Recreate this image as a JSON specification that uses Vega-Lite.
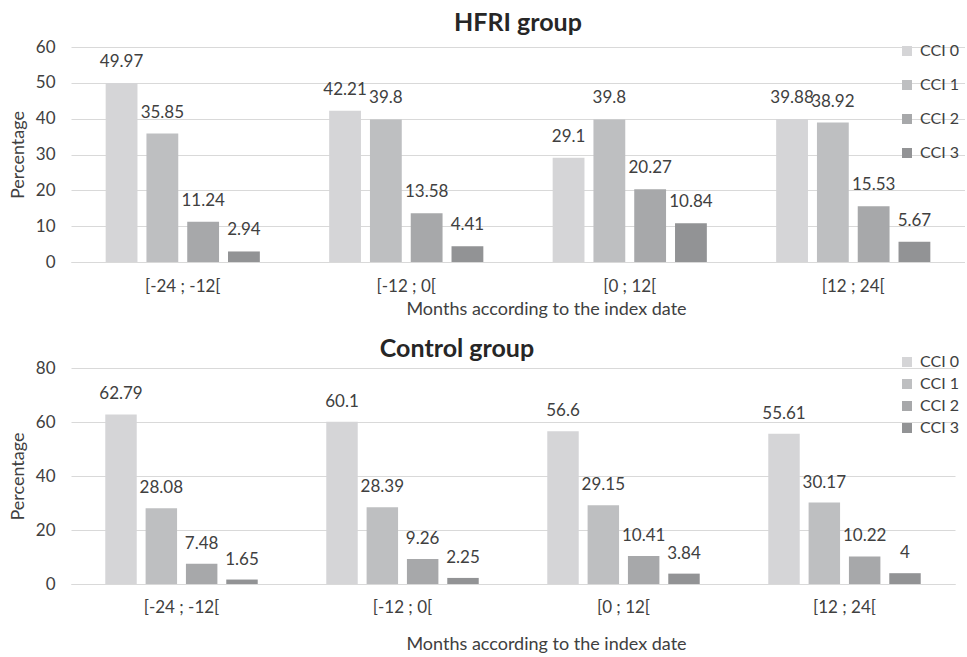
{
  "$schema": "https://vega.github.io/schema/vega-lite/v6.json",
  "padding": {"left": 9, "top": 11, "right": 0, "bottom": 0},
  "background": "white",
  "config": {
    "font": "Lato",
    "view": {"stroke": null},
    "axis": {"labelColor": "#404040", "titleColor": "#404040", "titleFontWeight": "normal"},
    "concat": {"spacing": 19}
  },
  "datasets": {
    "d": [
      {"group": "HFRI", "period": "[-24 ; -12[", "cci": "CCI 0", "value": 49.97},
      {"group": "HFRI", "period": "[-24 ; -12[", "cci": "CCI 1", "value": 35.85},
      {"group": "HFRI", "period": "[-24 ; -12[", "cci": "CCI 2", "value": 11.24},
      {"group": "HFRI", "period": "[-24 ; -12[", "cci": "CCI 3", "value": 2.94},
      {"group": "HFRI", "period": "[-12 ; 0[", "cci": "CCI 0", "value": 42.21},
      {"group": "HFRI", "period": "[-12 ; 0[", "cci": "CCI 1", "value": 39.8},
      {"group": "HFRI", "period": "[-12 ; 0[", "cci": "CCI 2", "value": 13.58},
      {"group": "HFRI", "period": "[-12 ; 0[", "cci": "CCI 3", "value": 4.41},
      {"group": "HFRI", "period": "[0 ; 12[", "cci": "CCI 0", "value": 29.1},
      {"group": "HFRI", "period": "[0 ; 12[", "cci": "CCI 1", "value": 39.8},
      {"group": "HFRI", "period": "[0 ; 12[", "cci": "CCI 2", "value": 20.27},
      {"group": "HFRI", "period": "[0 ; 12[", "cci": "CCI 3", "value": 10.84},
      {"group": "HFRI", "period": "[12 ; 24[", "cci": "CCI 0", "value": 39.88},
      {"group": "HFRI", "period": "[12 ; 24[", "cci": "CCI 1", "value": 38.92},
      {"group": "HFRI", "period": "[12 ; 24[", "cci": "CCI 2", "value": 15.53},
      {"group": "HFRI", "period": "[12 ; 24[", "cci": "CCI 3", "value": 5.67},
      {"group": "Control", "period": "[-24 ; -12[", "cci": "CCI 0", "value": 62.79},
      {"group": "Control", "period": "[-24 ; -12[", "cci": "CCI 1", "value": 28.08},
      {"group": "Control", "period": "[-24 ; -12[", "cci": "CCI 2", "value": 7.48},
      {"group": "Control", "period": "[-24 ; -12[", "cci": "CCI 3", "value": 1.65},
      {"group": "Control", "period": "[-12 ; 0[", "cci": "CCI 0", "value": 60.1},
      {"group": "Control", "period": "[-12 ; 0[", "cci": "CCI 1", "value": 28.39},
      {"group": "Control", "period": "[-12 ; 0[", "cci": "CCI 2", "value": 9.26},
      {"group": "Control", "period": "[-12 ; 0[", "cci": "CCI 3", "value": 2.25},
      {"group": "Control", "period": "[0 ; 12[", "cci": "CCI 0", "value": 56.6},
      {"group": "Control", "period": "[0 ; 12[", "cci": "CCI 1", "value": 29.15},
      {"group": "Control", "period": "[0 ; 12[", "cci": "CCI 2", "value": 10.41},
      {"group": "Control", "period": "[0 ; 12[", "cci": "CCI 3", "value": 3.84},
      {"group": "Control", "period": "[12 ; 24[", "cci": "CCI 0", "value": 55.61},
      {"group": "Control", "period": "[12 ; 24[", "cci": "CCI 1", "value": 30.17},
      {"group": "Control", "period": "[12 ; 24[", "cci": "CCI 2", "value": 10.22},
      {"group": "Control", "period": "[12 ; 24[", "cci": "CCI 3", "value": 4}
    ]
  },
  "data": {"name": "d"},
  "vconcat": [
    {
      "width": 894,
      "height": 215,
      "title": {"text": "HFRI group", "fontSize": 25, "fontWeight": "bold", "color": "#262626", "offset": 2, "anchor": "middle"},
      "transform": [{"filter": "datum.group === 'HFRI'"}],
      "encoding": {
        "x": {
          "field": "period", "type": "nominal",
          "sort": ["[-24 ; -12[", "[-12 ; 0[", "[0 ; 12[", "[12 ; 24["],
          "scale": {"paddingInner": 0.27, "paddingOuter": 0.135},
          "axis": {"title": "Months according to the index date", "labelAngle": 0, "ticks": false, "domainColor": "#d9d9d9", "labelFontSize": 17, "labelPadding": 16, "titleFontSize": 18, "titlePadding": 6, "titleX": 475}
        },
        "xOffset": {"field": "cci", "type": "nominal", "scale": {"paddingInner": 0.22, "paddingOuter": 0.11}},
        "y": {
          "field": "value", "type": "quantitative",
          "scale": {"domain": [0, 60]},
          "axis": {"values": [0, 10, 20, 30, 40, 50, 60], "title": "Percentage", "domain": false, "ticks": false, "gridColor": "#d9d9d9", "labelFontSize": 17, "labelPadding": 16, "titleFontSize": 18, "titlePadding": 8}
        }
      },
      "layer": [
        {
          "mark": {"type": "bar"},
          "encoding": {
            "color": {
              "field": "cci", "type": "nominal",
              "scale": {"domain": ["CCI 0", "CCI 1", "CCI 2", "CCI 3"], "range": ["#d5d5d7", "#bebfc1", "#a7a8aa", "#929395"]},
              "legend": {"orient": "none", "legendX": 828, "legendY": -4, "title": null, "symbolType": "square", "symbolSize": 100, "symbolStrokeWidth": 0, "labelFontSize": 16, "labelColor": "#404040", "rowPadding": 18, "labelOffset": 5}
            }
          }
        },
        {
          "mark": {"type": "text", "dy": -21, "baseline": "middle", "fontSize": 17, "color": "#404040"},
          "encoding": {"text": {"field": "value", "type": "quantitative", "format": ""}}
        }
      ]
    },
    {
      "width": 884,
      "height": 216,
      "title": {"text": "Control group", "fontSize": 25, "fontWeight": "bold", "color": "#262626", "offset": -8, "anchor": "middle", "dx": -56},
      "transform": [{"filter": "datum.group === 'Control'"}],
      "encoding": {
        "x": {
          "field": "period", "type": "nominal",
          "sort": ["[-24 ; -12[", "[-12 ; 0[", "[0 ; 12[", "[12 ; 24["],
          "scale": {"paddingInner": 0.27, "paddingOuter": 0.135},
          "axis": {"title": "Months according to the index date", "labelAngle": 0, "ticks": false, "domainColor": "#d9d9d9", "labelFontSize": 17, "labelPadding": 15, "titleFontSize": 18, "titlePadding": 20, "titleX": 475}
        },
        "xOffset": {"field": "cci", "type": "nominal", "scale": {"paddingInner": 0.22, "paddingOuter": 0.11}},
        "y": {
          "field": "value", "type": "quantitative",
          "scale": {"domain": [0, 80]},
          "axis": {"values": [0, 20, 40, 60, 80], "title": "Percentage", "domain": false, "ticks": false, "gridColor": "#d9d9d9", "labelFontSize": 17, "labelPadding": 16, "titleFontSize": 18, "titlePadding": 8}
        }
      },
      "layer": [
        {
          "mark": {"type": "bar"},
          "encoding": {
            "color": {
              "field": "cci", "type": "nominal",
              "scale": {"domain": ["CCI 0", "CCI 1", "CCI 2", "CCI 3"], "range": ["#d5d5d7", "#bebfc1", "#a7a8aa", "#929395"]},
              "legend": {"orient": "none", "legendX": 828, "legendY": -14, "title": null, "symbolType": "square", "symbolSize": 100, "symbolStrokeWidth": 0, "labelFontSize": 16, "labelColor": "#404040", "rowPadding": 6, "labelOffset": 5}
            }
          }
        },
        {
          "mark": {"type": "text", "dy": -20, "baseline": "middle", "fontSize": 17, "color": "#404040"},
          "encoding": {"text": {"field": "value", "type": "quantitative", "format": ""}}
        }
      ]
    }
  ],
  "resolve": {"scale": {"color": "independent", "x": "independent", "y": "independent", "xOffset": "independent"}, "legend": {"color": "independent"}}
}
